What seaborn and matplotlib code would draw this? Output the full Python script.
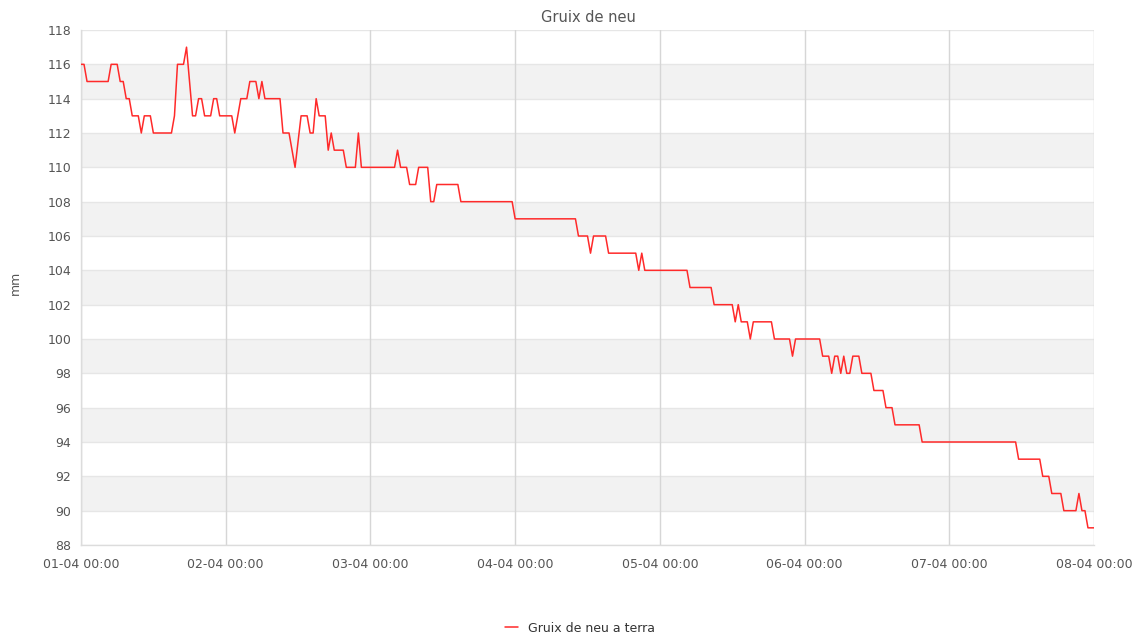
import numpy as np
import pandas as pd
import matplotlib
matplotlib.use("Agg")
import matplotlib.pyplot as plt
import matplotlib.dates as mdates
import seaborn as sns

# ---- data: polyline vertices (hours since 01-04 00:00, mm)
hours = [0, 0.5, 1, 4.5, 5, 6, 6.5, 7, 7.5, 8, 8.5, 9.5, 10, 10.5, 11.5, 12, 15, 15.5, 16, 17,
         17.5, 18.5, 19, 19.5, 20, 20.5, 21.5, 22, 22.5, 23, 25, 25.5, 26, 26.5, 27.5, 28, 29,
         29.5, 30, 30.5, 33, 33.5, 34.5, 35.5, 36.5, 37.5, 38, 38.5, 39, 39.5, 40.5, 41, 41.5,
         42, 43.5, 44, 45.5, 46, 46.5, 52, 52.5, 53, 54, 54.5, 55.5, 56, 57.5, 58, 58.5, 59,
         62.5, 63, 71.5, 72, 82, 82.5, 84, 84.5, 85, 87, 87.5, 92, 92.5, 93, 93.5, 100.5, 101,
         104.5, 105, 108, 108.5, 109, 109.5, 110.5, 111, 111.5, 114.5, 115, 117.5, 118, 118.5,
         122.5, 123, 124, 124.5, 125, 125.5, 126, 126.5, 127, 127.5, 128, 129, 129.5, 131,
         131.5, 133, 133.5, 134.5, 135, 139, 139.5, 155, 155.5, 159, 159.5, 160.5, 161, 162.5,
         163, 165, 165.5, 166, 166.5, 167, 168]
snow_mm = [116, 116, 115, 115, 116, 116, 115, 115, 114, 114, 113, 113, 112, 113, 113, 112, 112,
           113, 116, 116, 117, 113, 113, 114, 114, 113, 113, 114, 114, 113, 113, 112, 113, 114,
           114, 115, 115, 114, 115, 114, 114, 112, 112, 110, 113, 113, 112, 112, 114, 113, 113,
           111, 112, 111, 111, 110, 110, 112, 110, 110, 111, 110, 110, 109, 109, 110, 110, 108,
           108, 109, 109, 108, 108, 107, 107, 106, 106, 105, 106, 106, 105, 105, 104, 105, 104,
           104, 103, 103, 102, 102, 101, 102, 101, 101, 100, 101, 101, 100, 100, 99, 100, 100,
           99, 99, 98, 99, 99, 98, 99, 98, 98, 99, 99, 98, 98, 97, 97, 96, 96, 95, 95, 94, 94,
           93, 93, 92, 92, 91, 91, 90, 90, 91, 90, 90, 89, 89]

day_labels = ["01-04 00:00", "02-04 00:00", "03-04 00:00", "04-04 00:00",
              "05-04 00:00", "06-04 00:00", "07-04 00:00", "08-04 00:00"]
y_ticks = list(range(88, 119, 2))
title = "Gruix de neu"
series_name = "Gruix de neu a terra"
y_label = "mm"

start = pd.Timestamp("2024-04-01 00:00")
df = pd.DataFrame({
    "time": [start + pd.Timedelta(hours=h) for h in hours],
    "value": snow_mm,
    "serie": series_name,
})
day_ticks = [start + pd.Timedelta(days=d) for d in range(len(day_labels))]

sns.set_theme(style="white")
plt.rcParams["font.family"] = ["DejaVu Sans"]

fig = plt.figure(figsize=(11.44, 6.37), dpi=100)
ax = fig.add_axes([81 / 1144, 1 - 545 / 637, (1094 - 81) / 1144, (545 - 30) / 637])
ax.set_facecolor("white")

# alternating bands
for i, lo in enumerate(y_ticks[:-1]):
    if i % 2 == 1:
        ax.axhspan(lo, lo + 2, color="#f2f2f2", zorder=0, lw=0)
for yv in y_ticks:
    ax.axhline(yv, color="#e6e6e6", lw=1, zorder=0.5)
for d in day_ticks:
    ax.axvline(d, color="#d6d6d6", lw=1, zorder=0.6)

sns.lineplot(data=df, x="time", y="value", hue="serie", palette=["#ff2a2a"],
             linewidth=1.1, ax=ax, legend=True, zorder=3)

ax.set_xlim(day_ticks[0], day_ticks[-1])
ax.set_ylim(88, 118)
ax.set_yticks(y_ticks)
ax.set_yticklabels([str(v) for v in y_ticks])
ax.set_xticks(day_ticks)
ax.set_xticklabels(day_labels)
ax.tick_params(axis="both", length=0, labelsize=9, colors="#555555")
ax.tick_params(axis="x", pad=9)
ax.tick_params(axis="y", pad=7)
ax.set_xlabel("")
ax.set_ylabel("")
for s in ["top", "right"]:
    ax.spines[s].set_visible(False)
for s in ["left", "bottom"]:
    ax.spines[s].set_color("#dcdcdc")
    ax.spines[s].set_linewidth(1)

fig.text(15 / 1144, 1 - 283 / 637, y_label, rotation=90, ha="center", va="center",
         fontsize=9, color="#555555")
fig.text(588 / 1144, 1 - 17 / 637, title, ha="center", va="center",
         fontsize=10.5, color="#555555")

handles, labels = ax.get_legend_handles_labels()
ax.get_legend().remove()
fig.legend(handles, labels, loc="center", bbox_to_anchor=(580 / 1144, 1 - 628 / 637),
           frameon=False, fontsize=9, handlelength=1.0, handletextpad=0.8,
           labelcolor="#333333")

fig.savefig("out.png", dpi=100)
